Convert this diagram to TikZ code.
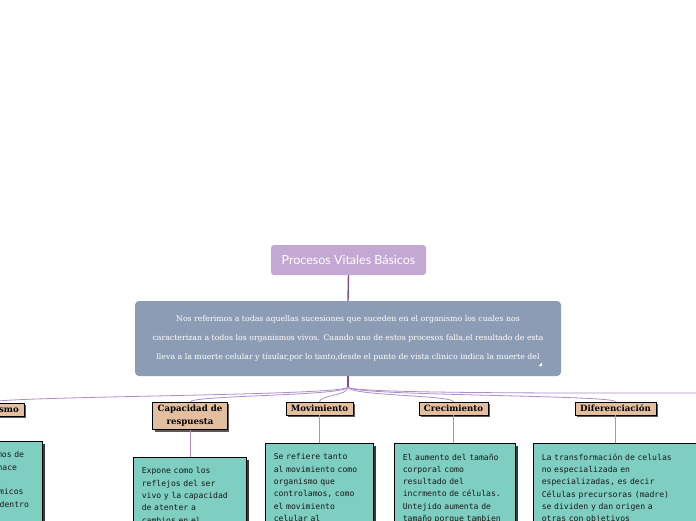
\documentclass[tikz,border=0pt]{standalone}
\usepackage{fontspec}
\usetikzlibrary{shadows}

\newfontfamily\rootfont{Lato}
\newfontfamily\descfont{DejaVu Serif}
\newfontfamily\topicfont{DejaVu Serif}
\newfontfamily\notefont{DejaVu Sans Mono}

\definecolor{rootfill}{HTML}{C3A8D4}
\definecolor{descfill}{HTML}{8C9CB4}
\definecolor{trunk}{HTML}{7D4CA0}
\definecolor{branch}{HTML}{AE8DCB}
\definecolor{topicfill}{HTML}{E3BF9F}
\definecolor{notefill}{HTML}{7ECFC1}
\definecolor{noteshadow}{HTML}{2E403C}

\begin{document}
\begin{tikzpicture}[
    x=1pt, y=-1pt,
    rootbox/.style={fill=rootfill, rounded corners=3pt, minimum width=155pt, minimum height=30pt, text=white, font=\rootfont\fontsize{12.5}{14}\selectfont},
    descbox/.style={fill=descfill, rounded corners=4pt, minimum width=426pt, minimum height=75pt, text=white, align=center, font=\descfont\fontsize{7.8}{19}\selectfont},
    topic/.style={draw=black, fill=topicfill, line width=0.5pt, inner xsep=5pt, inner ysep=3pt, align=center,
        drop shadow={shadow xshift=2pt, shadow yshift=-2pt, fill=black!65, opacity=1},
        font=\topicfont\bfseries\fontsize{8.6}{13}\selectfont},
    note/.style={draw=black, fill=notefill, line width=0.5pt, anchor=north west, align=left, inner xsep=8.5pt, inner ysep=10.5pt,
        drop shadow={shadow xshift=2.5pt, shadow yshift=-2.5pt, fill=noteshadow, opacity=1},
        text=black!90, font=\notefont\fontsize{8.1}{12.3}\selectfont},
    trunkline/.style={draw=trunk, line width=1.4pt},
    branchline/.style={draw=branch, line width=0.8pt},
]
\useasboundingbox (0,0) rectangle (696,520);
\clip (0,0) rectangle (696,520);
\fill[white] (0,0) rectangle (696,520);

% Root
\node[rootbox] (root) at (348.5,260) {Procesos Vitales Básicos};

% Description
\node[descbox] (desc) at (348,338.5) {Nos referimos a todas aquellas sucesiones que suceden en el organismo los cuales nos\\
caracterizan a todos los organismos vivos. Cuando uno de estos procesos falla,el resultado de esta\\
lleva a la muerte celular y tisular,por lo tanto,desde el punto de vista clinico indica la muerte del};
\fill[white] (538.5,366) -- (542,366) -- (542,362.5) -- cycle;

\coordinate (hub) at (348,387);
\coordinate (repro) at (720,393);

% Topics row
\node[topic, anchor=east] (meta) at (24,409.5) {Metabolismo};
\node[topic] (resp) at (190,416) {Capacidad de\\respuesta};
\node[topic] (mov)  at (319.5,408.5) {Movimiento};
\node[topic] (crec) at (453.5,408.5) {Crecimiento};
\node[topic] (dif)  at (615.5,408.5) {Diferenciación};

% Notes
\node[note, text width=108pt, inner xsep=6pt] (metanote) at (-78,441) {Son los mecanismos de\\todo lo que uno hace\\por medio de los\\procesos bioquímicos\\que se producen dentro\\de todo ser vivo};
\node[note, text width=96pt] (respnote) at (133,457) {Expone como los\\reflejos del ser\\vivo y la capacidad\\de atenter a\\cambios en el};
\node[note, text width=91pt] (movnote) at (265,443) {Se refiere tanto\\al movimiento como\\organismo que\\controlamos, como\\el movimiento\\celular al};
\node[note, text width=104pt] (crecnote) at (394,443) {El aumento del tamaño\\corporal como\\resultado del\\incrmento de células.\\Untejido aumenta de\\tamaño porque tambien};
\node[note, text width=150pt] (difnote) at (533,443) {La transformación de celulas\\no especializada en\\especializadas, es decir\\Células precursoras (madre)\\se dividen y dan origen a\\otras con objetivos};

% Edges
\draw[trunkline] (root.south) -- (desc.north);
\draw[trunkline] (desc.south) -- (hub);
\foreach \t in {meta,resp,mov,crec,dif}
  \draw[branchline] (hub) .. controls +(0,9) and +(0,-7) .. (\t.north);
\draw[branchline] (hub) .. controls +(0,7) and +(-120,0) .. (repro);
\draw[branchline] (meta.south) -- (meta.south |- metanote.north);
\foreach \t in {resp,mov,crec,dif}
  \draw[branchline] (\t.south) -- (\t.south |- \t note.north);

\end{tikzpicture}
\end{document}
